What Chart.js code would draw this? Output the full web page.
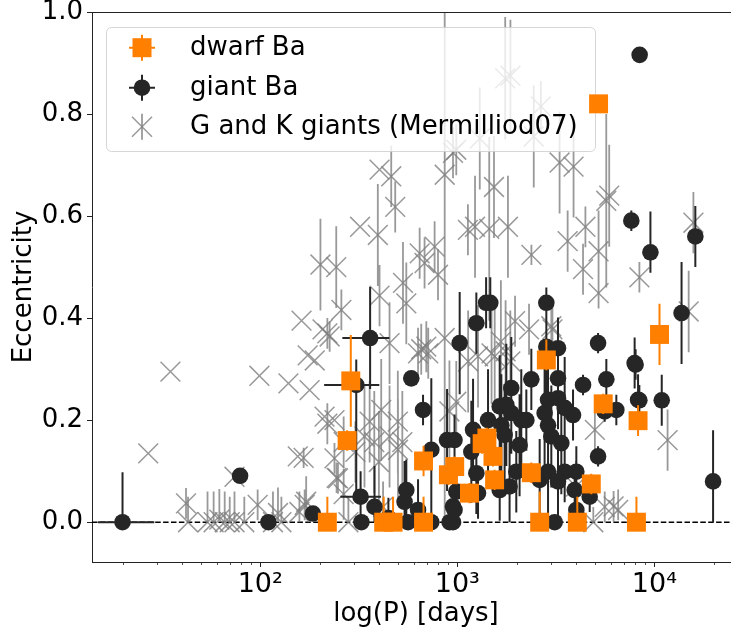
<!DOCTYPE html>
<html><head><meta charset="utf-8">
<script src="https://cdn.jsdelivr.net/npm/chart.js@4.4.0/dist/chart.umd.min.js"></script>
<style>html,body{margin:0;padding:0;background:#fff;overflow:hidden;width:731px;height:630px}canvas{display:block}</style>
</head><body>
<canvas id="c" width="740" height="630"></canvas>
<script>
// ---------- data ----------
const xTickValues = [100, 1000, 10000];
const xTickLabels = ['10²', '10³', '10⁴'];
const yTickValues = [0, 0.2, 0.4, 0.6, 0.8, 1.0];

const dwarfP = [219,276,288,423,472,674,674,901,970,1153,1337,1413,1517,1546,2375,2830,2618,4064,4786,5210,5500,8265,8110,10620];
const dwarfE = [0,0.16,0.277,0,0,0,0.12,0.093,0.109,0.057,0.154,0.165,0.129,0.083,0.097,0.318,0,0,0.075,0.82,0.232,0.199,0,0.368];
const dwarfErrLo = [0,0.02,0.09,0,0,0,0.03,0.02,0.02,0.02,0.02,0.02,0.02,0.02,0.02,0.02,0,0,0.02,0,0.02,0.03,0,0.06];
const dwarfErrHi = [0.05,0.02,0.09,0.05,0.05,0.05,0.03,0.02,0.02,0.02,0.02,0.02,0.02,0.02,0.02,0.04,0.06,0.05,0.02,0,0.02,0.03,0.05,0.06];

const giantP = [20,361,307,323,79,110,185,326,380,447,
  540,551,562,632,738,914,584,670,738,887,
  951,988,1028,1249,1400,1470,2830,2830,3243,5180,
  7941,5705,4346,3243,2375,1879,8265,6412,5598,3866,
  3506,2887,3243,2773,2887,3000,3372,1641,1773,1879,
  2112,2240,1432,1673,1738,2070,1202,1178,5180,1992,
  2618,2887,3506,4018,3243,3941,4697,4018,3119,1249,
  1274,1641,1842,968,951,968,8420,7640,9550,16140,
  13740,10900,19860,8390,8030];
const giantE = [0,0.361,0.269,0.05,0.091,0,0.017,0,0.03,0.008,
  0.04,0.063,0,0.024,0,0,0.282,0.22,0.142,0.161,
  0.031,0.06,0.351,0.39,0.43,0.43,0.43,0.344,0.341,0.351,
  0.312,0.28,0.269,0.282,0.28,0.263,0.24,0.22,0.217,0.21,
  0.224,0.24,0.243,0.214,0.19,0.168,0.155,0.227,0.23,0.214,
  0.2,0.2,0.2,0.19,0.171,0.151,0.181,0.138,0.129,0.099,
  0.083,0.099,0.099,0.099,0.08,0.063,0.05,0.024,0,0.096,
  0.057,0.063,0.07,0.024,0,0.161,0.916,0.591,0.529,0.56,
  0.41,0.239,0.08,0.239,0.309];
const giantErrLo = [0,0.1,0.22,0.05,0,0,0,0,0.03,0,
  0.04,0.06,0,0.02,0,0,0,0.03,0.14,0.1,
  0.03,0.06,0.1,0.06,0.05,0.05,0.03,0.1,0.06,0.02,
  0.05,0.04,0.02,0.1,0.06,0.1,0.05,0.03,0.02,0.05,
  0.1,0.1,0.06,0.12,0.15,0.1,0.1,0.1,0.12,0.08,
  0.1,0.06,0.1,0.1,0.1,0.1,0.1,0.1,0.02,0.08,
  0.08,0.1,0.06,0.05,0.08,0.04,0.03,0.02,0,0.08,
  0.05,0.06,0.07,0.02,0,0.05,0,0.02,0.04,0.06,
  0.1,0.05,0.08,0.03,0.03];
const giantErrHi = [0.098,0.1,0.05,0.05,0,0,0,0,0.08,0.04,
  0.08,0.06,0,0.06,0,0,0,0.03,0.14,0.1,
  0.05,0.06,0.1,0.06,0.05,0.05,0.03,0.1,0.06,0.02,
  0.05,0.04,0.02,0.1,0.06,0.1,0.05,0.03,0.02,0.05,
  0.1,0.1,0.06,0.12,0.15,0.1,0.1,0.1,0.12,0.08,
  0.1,0.06,0.1,0.1,0.1,0.1,0.1,0.1,0.02,0.08,
  0.08,0.1,0.06,0.05,0.08,0.04,0.03,0.04,0,0.08,
  0.05,0.1,0.1,0.04,0,0.05,0,0.02,0.08,0.06,
  0.1,0.05,0.1,0.03,0.03];
// period error bars of the first four giant points
const giantPLo = [15, 261, 211, 255];
const giantPHi = [29, 452, 402, 410];

const mermP = [27,35,42,43,54,58,62,66,70,74,
  74,83,97,99,116,123,128,139,155,158,
  162,166,168,171,174,178,189,202,243,207,
  219,212,238,225,238,248,258,219,265,244,
  265,280,304,359,379,400,499,526,656,712,
  912,988,1135,1492,1664,1758,1858,1963,2312,3040,
  4000,321,395,403,462,484,403,530,551,644,
  682,767,798,863,951,988,1132,1230,1452,1300,
  1535,1750,1860,1807,2377,2443,2655,3304,3890,3630,
  4467,4345,5210,5210,5700,5900,8395,15780,14930,11670,
  4990,6210,6550,453,863,632,696,338,411,453,
  500,420,3000,1548,1274,4900,5600];
const mermE = [0.135,0.295,0.037,0,0,0,0.005,0,0,0,
  0.089,0,0.034,0.287,0,0.018,0,0.272,0.129,0.02,
  0.395,0.126,0.034,0.04,0.327,0.259,0.317,0.505,0.5,0.378,
  0.37,0.207,0.2,0.364,0.125,0.086,0.416,0.193,0.157,0.087,
  0.055,0,0.138,0.197,0.157,0.118,0.197,0.157,0.339,0.331,
  0.217,0.236,0.315,0.331,0.354,0.335,0.315,0.394,0.378,0.378,
  0.07,0.579,0.563,0.691,0.678,0.618,0.444,0.469,0.429,0.527,
  0.508,0.54,0.485,0.681,0.724,0.73,0.573,0.579,0.575,0.752,
  0.657,0.87,0.875,0.579,0.524,0.756,0.815,0.705,0.697,0.551,
  0.579,0.496,0.531,0.449,0.63,0.64,0.48,0.587,0.413,0.161,
  0.181,0.031,0.024,0.351,0.361,0.331,0.344,0.168,0.22,0.168,
  0.142,0.03,0.384,0.325,0.325,0,0.03];
const mermErrLo = [0,0,0.03,0,0,0,0,0,0,0,
  0,0,0.03,0,0,0.018,0,0,0,0.02,
  0,0.02,0.03,0.03,0,0,0,0.09,0.08,0,
  0.03,0,0,0.03,0.03,0.03,0.04,0.04,0.05,0.03,
  0.05,0,0.06,0.08,0.1,0.1,0.1,0.1,0.05,0.05,
  0.1,0.08,0.1,0.1,0.12,0.1,0.1,0.05,0.05,0.06,
  0.05,0,0.1,0,0.06,0.05,0.06,0.08,0.08,0.05,
  0.05,0.05,0.05,0.68,0.05,0.05,0.05,0.1,0.18,0.1,
  0.1,0.12,0.11,0.1,0.02,0.1,0.05,0.1,0.1,0.06,
  0.04,0.05,0.08,0.03,0.17,0.1,0.03,0.06,0.08,0.06,
  0.04,0.03,0.02,0.08,0.1,0.05,0.05,0.1,0.1,0.1,
  0.1,0.03,0.05,0.1,0.1,0,0.03];
const mermErrHi = [0,0,0.03,0.05,0.06,0.06,0.06,0.06,0.05,0.06,
  0,0.05,0.03,0,0.06,0.05,0.05,0,0,0.04,
  0,0.02,0.03,0.05,0,0,0,0.09,0.08,0,
  0.03,0,0,0.03,0.03,0.03,0.04,0.04,0.05,0.03,
  0.05,0.05,0.06,0.08,0.1,0.1,0.1,0.1,0.05,0.05,
  0.1,0.08,0.1,0.1,0.12,0.1,0.1,0.05,0.05,0.06,
  0.05,0,0.1,0,0.06,0.05,0.06,0.08,0.08,0.05,
  0.05,0.05,0.05,0.68,0.05,0.05,0.05,0.1,0.18,0.1,
  0.1,0.12,0.11,0.1,0.02,0.1,0.05,0.1,0.1,0.06,
  0.04,0.05,0.08,0.03,0.17,0.1,0.03,0.06,0.08,0.06,
  0.04,0.03,0.04,0.08,0.1,0.05,0.05,0.1,0.1,0.1,
  0.1,0.05,0.05,0.1,0.1,0.03,0.03];

// ---------- styles ----------
const FONT = "'DejaVu Sans', sans-serif";
const ORANGE = '#ff7f00';
const BLACK = '#262626';
const GRAY = 'rgba(128,128,128,0.8)';

const dwarfData = dwarfP.map((p, i) => ({x: p, y: dwarfE[i], lo: dwarfErrLo[i], hi: dwarfErrHi[i]}));
const giantData = giantP.map((p, i) => ({x: p, y: giantE[i], lo: giantErrLo[i], hi: giantErrHi[i], xlo: giantPLo[i], xhi: giantPHi[i]}));
const mermData = mermP.map((p, i) => ({x: p, y: mermE[i], lo: mermErrLo[i], hi: mermErrHi[i]}));

function drawLegend(chart) {
  const ctx = chart.ctx;
  ctx.save();
  const L = {x: 106, y: 27, w: 489, h: 124};
  ctx.beginPath();
  ctx.roundRect(L.x + 0.5, L.y + 0.5, L.w, L.h, 5);
  ctx.fillStyle = 'rgba(255,255,255,0.8)'; ctx.fill();
  ctx.strokeStyle = 'rgba(204,204,204,0.8)'; ctx.lineWidth = 1; ctx.stroke();
  const rowsY = [47.7, 87.7, 126.7];
  const mx = 142, tx = 190;
  const dsets = chart.data.datasets;
  ctx.strokeStyle = ORANGE; ctx.lineWidth = 2;
  ctx.beginPath();
  ctx.moveTo(mx, rowsY[0] - 13); ctx.lineTo(mx, rowsY[0] + 13);
  ctx.moveTo(mx - 13, rowsY[0]); ctx.lineTo(mx + 13, rowsY[0]);
  ctx.stroke();
  ctx.fillStyle = ORANGE; ctx.fillRect(mx - 9.5, rowsY[0] - 9.5, 19, 19);
  ctx.strokeStyle = BLACK;
  ctx.beginPath();
  ctx.moveTo(mx, rowsY[1] - 13); ctx.lineTo(mx, rowsY[1] + 13);
  ctx.moveTo(mx - 13, rowsY[1]); ctx.lineTo(mx + 13, rowsY[1]);
  ctx.stroke();
  ctx.fillStyle = BLACK; ctx.beginPath(); ctx.arc(mx, rowsY[1], 8.3, 0, Math.PI * 2); ctx.fill();
  ctx.strokeStyle = GRAY; ctx.lineWidth = 1.8;
  ctx.beginPath(); ctx.moveTo(mx, rowsY[2] - 13); ctx.lineTo(mx, rowsY[2] + 13); ctx.stroke();
  ctx.lineWidth = 1.5;
  ctx.beginPath();
  ctx.moveTo(mx - 10, rowsY[2] - 10); ctx.lineTo(mx + 10, rowsY[2] + 10);
  ctx.moveTo(mx + 10, rowsY[2] - 10); ctx.lineTo(mx - 10, rowsY[2] + 10);
  ctx.stroke();
  ctx.fillStyle = '#000'; ctx.font = '26px ' + FONT; ctx.textBaseline = 'middle'; ctx.textAlign = 'left';
  dsets.forEach((d, i) => ctx.fillText(d.label, tx, rowsY[i] + 1));
  ctx.restore();
}

const decor = {
  id: 'decor',
  beforeDatasetsDraw(chart) {
    const {ctx, chartArea: a, scales: {y}} = chart;
    const y0 = y.getPixelForValue(0);
    ctx.save();
    ctx.strokeStyle = '#000'; ctx.lineWidth = 1.5; ctx.setLineDash([5.5, 2.4]);
    ctx.beginPath(); ctx.moveTo(a.left, y0); ctx.lineTo(a.right, y0); ctx.stroke();
    ctx.restore();
  },
  beforeDatasetDraw(chart, args) {
    if (args.index === 0) drawLegend(chart); // legend sits above the giants, below the dwarf squares
  },
  afterDraw(chart) {
    const {ctx, chartArea: a, scales: {x}} = chart;
    ctx.save();
    ctx.strokeStyle = '#222'; ctx.lineWidth = 1;
    ctx.beginPath(); ctx.moveTo(a.left, a.top + 0.5); ctx.lineTo(a.right, a.top + 0.5); ctx.stroke();
    for (let d = 1; d <= 4; d++) {
      for (let m = 1; m <= 9; m++) {
        const v = m * Math.pow(10, d);
        if (v < x.min || v > x.max) continue;
        const px = Math.round(x.getPixelForValue(v)) + 0.5;
        const len = m === 1 ? 5 : 3;
        ctx.lineWidth = m === 1 ? 1 : 0.8;
        ctx.beginPath(); ctx.moveTo(px, a.bottom); ctx.lineTo(px, a.bottom + len); ctx.stroke();
      }
    }
    ctx.restore();
  }
};

const errorBars = {
  id: 'errorBars',
  beforeDatasetDraw(chart, args) {
    const ds = chart.data.datasets[args.index];
    const {ctx, chartArea: a, scales: {x, y}} = chart;
    ctx.save();
    ctx.beginPath(); ctx.rect(a.left, a.top, a.right - a.left, a.bottom - a.top); ctx.clip();
    ctx.strokeStyle = ds.errColor; ctx.lineWidth = ds.errWidth;
    ctx.beginPath();
    ds.data.forEach(p => {
      const px = x.getPixelForValue(p.x), py = y.getPixelForValue(p.y);
      if (p.lo || p.hi) {
        ctx.moveTo(px, y.getPixelForValue(p.y - p.lo));
        ctx.lineTo(px, y.getPixelForValue(p.y + p.hi));
      }
      if (p.xlo && p.xhi) {
        ctx.moveTo(x.getPixelForValue(p.xlo), py);
        ctx.lineTo(x.getPixelForValue(p.xhi), py);
      }
    });
    ctx.stroke();
    ctx.restore();
  }
};

new Chart(document.getElementById('c'), {
  type: 'scatter',
  data: {
    datasets: [
      {label: 'dwarf Ba', data: dwarfData, pointStyle: 'rect', pointRadius: 13.4, pointHoverRadius: 13.4,
       pointBackgroundColor: ORANGE, pointBorderColor: ORANGE, pointBorderWidth: 0,
       errColor: ORANGE, errWidth: 2, order: 0},
      {label: 'giant Ba', data: giantData, pointStyle: 'circle', pointRadius: 8.3, pointHoverRadius: 8.3,
       pointBackgroundColor: BLACK, pointBorderColor: BLACK, pointBorderWidth: 0,
       errColor: BLACK, errWidth: 2, order: 1},
      {label: 'G and K giants (Mermilliod07)', data: mermData, pointStyle: 'crossRot', pointRadius: 14, pointHoverRadius: 14,
       pointBackgroundColor: GRAY, pointBorderColor: GRAY, pointBorderWidth: 1.5,
       errColor: GRAY, errWidth: 1.8, order: 2}
    ]
  },
  options: {
    responsive: false, animation: false, devicePixelRatio: 1, events: [],
    layout: {autoPadding: false, padding: {top: 12, right: 0, left: 0, bottom: 0}},
    plugins: {legend: {display: false}, tooltip: {enabled: false}},
    scales: {
      x: {
        type: 'logarithmic', min: 14, max: 27200,
        afterBuildTicks(s) { s.ticks = xTickValues.map(v => ({value: v})); },
        afterFit(s) { s.height = 68; s.paddingLeft = 0; s.paddingRight = 0; },
        ticks: {callback: v => { const i = xTickValues.indexOf(v); return i >= 0 ? xTickLabels[i] : ''; },
                font: {family: FONT, size: 27}, color: '#000', padding: 2, maxRotation: 0, autoSkip: false},
        grid: {display: false, drawTicks: true, tickLength: 5},
        border: {display: true, color: '#222', width: 1},
        title: {display: true, text: 'log(P) [days]', font: {family: FONT, size: 26}, color: '#000', padding: {top: 0, bottom: 0}}
      },
      y: {
        type: 'linear', min: -0.078, max: 1.0,
        afterBuildTicks(s) { s.ticks = yTickValues.map(v => ({value: v})); },
        afterFit(s) { s.width = 92; s.paddingTop = 0; s.paddingBottom = 0; },
        ticks: {callback: v => Number(v).toFixed(1), font: {family: FONT, size: 26}, color: '#000', padding: 4},
        grid: {display: true, drawOnChartArea: false, drawTicks: true, tickLength: 5, color: '#222'},
        border: {display: true, color: '#222', width: 1},
        title: {display: true, text: 'Eccentricity', font: {family: FONT, size: 26}, color: '#000', padding: {top: 9, bottom: 0}}
      }
    }
  },
  plugins: [decor, errorBars]
});
</script>
</body></html>
